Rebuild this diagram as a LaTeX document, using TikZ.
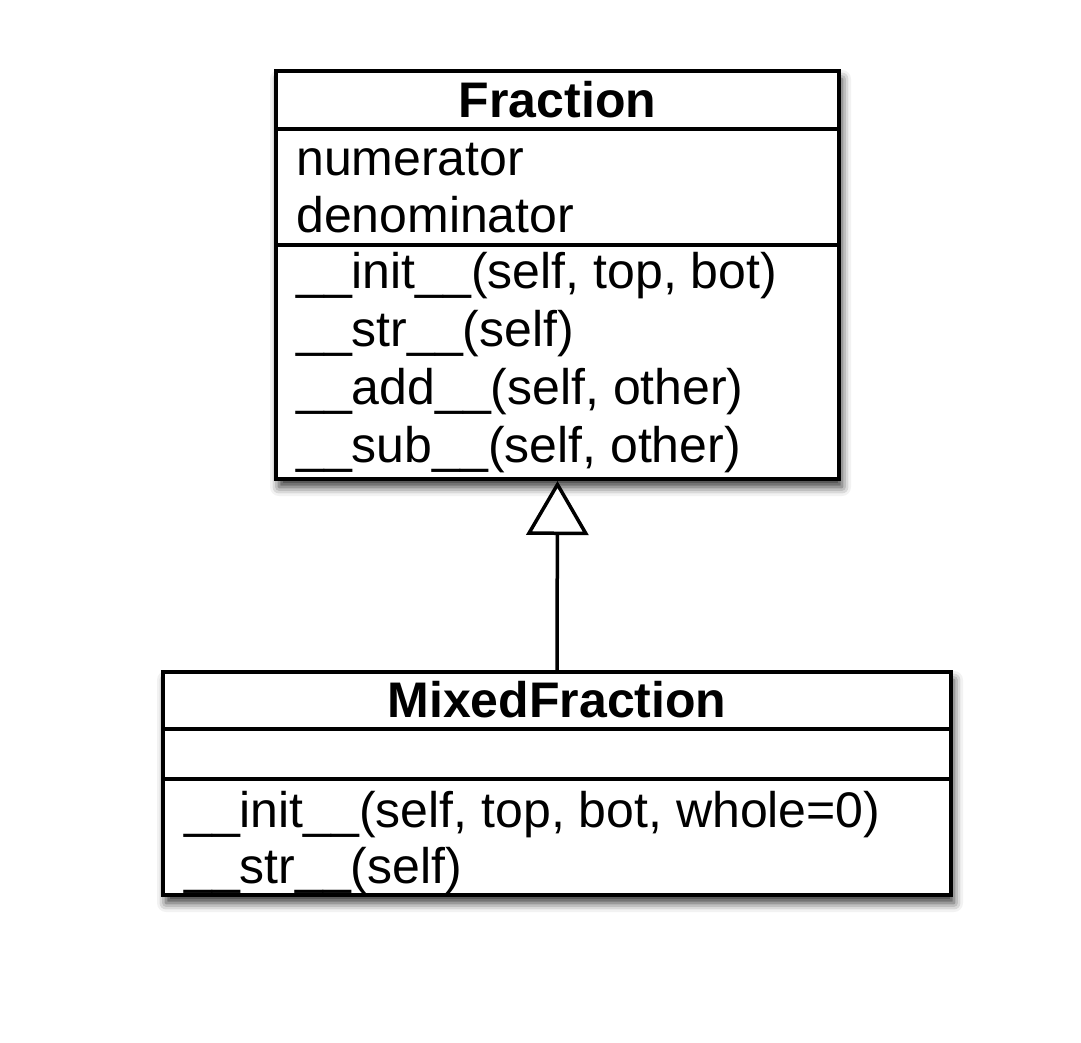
\documentclass[tikz,border=0pt]{standalone}
\usepackage{fontspec}
\setmainfont{Liberation Sans}
\usetikzlibrary{arrows.meta,shadows.blur}

\tikzset{
  classbox/.style={draw, line width=3.5pt, fill=white, anchor=north west, inner sep=0pt, outer sep=0pt,
    blur shadow={shadow xshift=3pt, shadow yshift=-8pt, shadow blur radius=9pt, shadow opacity=80}},
  divider/.style={line width=3.5pt},
  title/.style={anchor=base, inner sep=0pt, font=\fontsize{50}{58}\selectfont\bfseries},
  member/.style={anchor=base west, inner sep=0pt, font=\fontsize{50}{58}\selectfont},
  inherit/.style={line width=3.5pt, shorten >=2pt,
    -{Triangle[open, length=54pt, width=62pt, line width=3.5pt, fill=white]}}
}

\begin{document}
\begin{tikzpicture}[x=1pt,y=-1pt]
	\useasboundingbox (0,0) rectangle (1081,1042);

	% superclass
	\node[classbox, minimum width=563pt, minimum height=408pt] (fraction) at (276,71) {};
	\draw[divider] (fraction.west |- 0,129) -- (fraction.east |- 0,129);
	\draw[divider] (fraction.west |- 0,245) -- (fraction.east |- 0,245);
	\node[title] (fractitle) at (557.5,117) {Fraction};
	\foreach \attr [count=\i] in {numerator,denominator}
		\node[member] (fracattr\i) at (296,118+57*\i) {\attr};
	\foreach \op [count=\i] in {{\_\_init\_\_(self, top, bot)},{\_\_str\_\_(self)},{\_\_add\_\_(self, other)},{\_\_sub\_\_(self, other)}}
		\node[member] (fracop\i) at (296,230+58*\i) {\op};

	% subclass
	\node[classbox, minimum width=788pt, minimum height=223pt] (mixed) at (163,672) {};
	\draw[divider] (mixed.west |- 0,729) -- (mixed.east |- 0,729);
	\draw[divider] (mixed.west |- 0,779) -- (mixed.east |- 0,779);
	\node[title] (mixedtitle) at (557,717) {MixedFraction};
	\foreach \op [count=\i] in {{\_\_init\_\_(self, top, bot, whole=0)},{\_\_str\_\_(self)}}
		\node[member] (mixedop\i) at (184,771+56*\i) {\op};

	% inheritance
	\draw[inherit] (mixed.north) -- (fraction.south);
\end{tikzpicture}
\end{document}
